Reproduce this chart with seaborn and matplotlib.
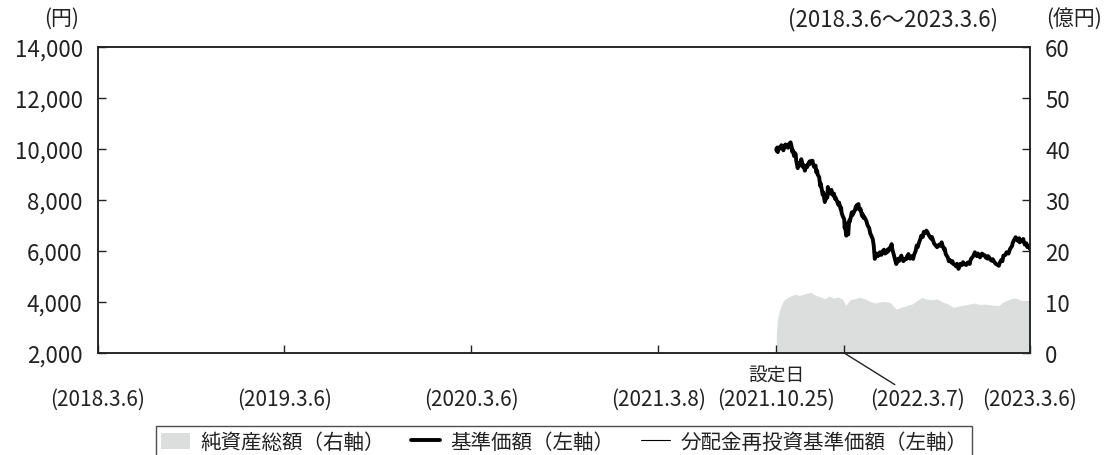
import pandas as pd
import matplotlib
matplotlib.use("Agg")
import matplotlib.pyplot as plt
from matplotlib.patches import Patch
from matplotlib.lines import Line2D
import seaborn as sns

# 基準価額（円）
nav_dates = [
    "2021-10-25", "2021-10-26", "2021-10-27", "2021-10-28", "2021-10-29",
    "2021-11-01", "2021-11-02", "2021-11-04", "2021-11-05", "2021-11-08", "2021-11-10",
    "2021-11-12", "2021-11-15", "2021-11-17", "2021-11-19", "2021-11-22", "2021-11-24",
    "2021-11-25", "2021-11-26", "2021-11-29", "2021-11-30",
    "2021-12-02", "2021-12-03", "2021-12-06", "2021-12-07", "2021-12-09", "2021-12-10",
    "2021-12-13", "2021-12-14", "2021-12-16", "2021-12-17", "2021-12-20", "2021-12-21",
    "2021-12-23", "2021-12-24", "2021-12-28", "2021-12-29", "2021-12-30",
    "2022-01-04", "2022-01-05", "2022-01-07", "2022-01-10", "2022-01-11", "2022-01-13",
    "2022-01-14", "2022-01-17", "2022-01-19", "2022-01-20", "2022-01-24", "2022-01-25",
    "2022-01-27", "2022-01-28", "2022-01-31",
    "2022-02-01", "2022-02-02", "2022-02-03", "2022-02-04", "2022-02-07", "2022-02-08",
    "2022-02-10", "2022-02-11", "2022-02-14", "2022-02-15", "2022-02-17", "2022-02-18",
    "2022-02-22", "2022-02-24", "2022-02-25", "2022-02-28",
    "2022-03-01", "2022-03-02", "2022-03-04", "2022-03-07", "2022-03-08", "2022-03-09",
    "2022-03-10", "2022-03-11", "2022-03-14", "2022-03-15", "2022-03-16", "2022-03-17",
    "2022-03-18", "2022-03-22", "2022-03-23", "2022-03-25", "2022-03-28", "2022-03-30",
    "2022-03-31",
    "2022-04-01", "2022-04-04", "2022-04-05", "2022-04-07", "2022-04-08", "2022-04-11",
    "2022-04-12", "2022-04-14", "2022-04-15", "2022-04-19", "2022-04-20", "2022-04-22",
    "2022-04-25", "2022-04-27",
    "2022-05-02", "2022-05-04", "2022-05-06", "2022-05-09", "2022-05-10", "2022-05-12",
    "2022-05-16", "2022-05-17", "2022-05-19", "2022-05-20", "2022-05-24", "2022-05-26",
    "2022-05-30", "2022-05-31",
    "2022-06-02", "2022-06-03", "2022-06-06", "2022-06-08", "2022-06-09", "2022-06-13",
    "2022-06-15", "2022-06-17", "2022-06-20", "2022-06-21", "2022-06-23", "2022-06-27",
    "2022-06-28",
    "2022-07-01", "2022-07-05", "2022-07-07", "2022-07-08", "2022-07-11", "2022-07-13",
    "2022-07-14", "2022-07-18", "2022-07-20", "2022-07-22", "2022-07-25", "2022-07-27",
    "2022-07-29",
    "2022-08-01", "2022-08-03", "2022-08-05", "2022-08-08", "2022-08-10", "2022-08-12",
    "2022-08-15", "2022-08-17", "2022-08-19", "2022-08-22", "2022-08-25", "2022-08-26",
    "2022-08-30",
    "2022-09-01", "2022-09-05", "2022-09-07", "2022-09-09", "2022-09-12", "2022-09-14",
    "2022-09-16", "2022-09-19", "2022-09-20", "2022-09-22", "2022-09-26", "2022-09-28",
    "2022-09-30",
    "2022-10-03", "2022-10-05", "2022-10-07", "2022-10-11", "2022-10-12", "2022-10-14",
    "2022-10-17", "2022-10-19", "2022-10-21", "2022-10-24", "2022-10-26", "2022-10-28",
    "2022-11-01", "2022-11-04", "2022-11-08", "2022-11-09", "2022-11-11", "2022-11-15",
    "2022-11-18", "2022-11-21", "2022-11-22", "2022-11-24", "2022-11-28", "2022-11-30",
    "2022-12-02", "2022-12-05", "2022-12-08", "2022-12-09", "2022-12-13", "2022-12-14",
    "2022-12-16", "2022-12-19", "2022-12-21", "2022-12-23", "2022-12-27", "2022-12-29",
    "2023-01-04", "2023-01-06", "2023-01-09", "2023-01-11", "2023-01-13", "2023-01-17",
    "2023-01-19", "2023-01-23", "2023-01-26", "2023-01-30", "2023-01-31",
    "2023-02-02", "2023-02-06", "2023-02-08", "2023-02-10", "2023-02-13", "2023-02-14",
    "2023-02-16", "2023-02-21", "2023-02-22", "2023-02-24", "2023-02-27",
    "2023-03-01", "2023-03-03", "2023-03-06",
]
nav_values = [
    10000, 9920, 10060, 9880, 9990,
    10080, 10020, 10150, 10060, 9950, 10120,
    10180, 10080, 10050, 10200, 10260, 10100,
    9900, 9980, 9720, 9850,
    9800, 9550, 9250, 9420, 9450, 9350,
    9600, 9520, 9300, 9380, 9150, 9250,
    9350, 9280, 9480, 9400, 9520,
    9540, 9420, 9300, 9350, 9100, 9150,
    9000, 8900, 8560, 8650, 8200, 8300,
    8050, 7920, 8100,
    8200, 8100, 8510, 8300, 8350, 8250,
    8400, 8300, 8170, 8250, 8050, 8100,
    7900, 7800, 7900, 7650,
    7700, 7500, 7380, 7250, 6900, 7100,
    6800, 6600, 6750, 6650, 7000, 7200,
    7150, 7520, 7400, 7480, 7600, 7750,
    7650,
    7800, 7840, 7700, 7600, 7650, 7380,
    7450, 7300, 7350, 7200, 7130, 7000,
    6900, 6700,
    6470, 6200, 5690, 5850, 5900, 5800,
    5950, 5850, 5850, 5950, 6050, 5900,
    5950, 6050,
    6000, 6100, 6150, 6270, 6100, 5800,
    5650, 5490, 5600, 5700, 5620, 5820,
    5750,
    5600, 5700, 5690, 5780, 5880, 5750,
    5700, 5800, 5690, 5850, 6000, 6210,
    6150,
    6350, 6450, 6600, 6550, 6750, 6700,
    6800, 6750, 6650, 6550, 6470, 6550,
    6300,
    6250, 6150, 6200, 6250, 6200, 6340,
    6200, 6050, 6100, 5880, 5750, 5600,
    5650,
    5550, 5600, 5490, 5450, 5400, 5500,
    5300, 5400, 5500, 5450, 5560, 5500,
    5450, 5550, 5490, 5600, 5700, 5800,
    5950, 5850, 5800, 5900, 5750, 5800,
    5900, 5850, 5820, 5750, 5700, 5800,
    5750, 5650, 5620, 5680, 5550, 5500,
    5420, 5550, 5650, 5600, 5820, 5850,
    5950, 5900, 6080, 6200, 6300,
    6400, 6540, 6450, 6400, 6500, 6340,
    6400, 6470, 6350, 6250, 6300,
    6150, 6200, 6080,
]

# 純資産総額（億円）
aum_dates = [
    "2021-10-25", "2021-10-27", "2021-11-01", "2021-11-08", "2021-11-15", "2021-11-22",
    "2021-12-01", "2021-12-10", "2021-12-20", "2022-01-01", "2022-01-10", "2022-01-20",
    "2022-01-28", "2022-02-05", "2022-02-14", "2022-02-24", "2022-03-04", "2022-03-10",
    "2022-03-18", "2022-03-25", "2022-04-05", "2022-04-15", "2022-04-25", "2022-05-06",
    "2022-05-15", "2022-05-25", "2022-06-05", "2022-06-17", "2022-06-28", "2022-07-07",
    "2022-07-18", "2022-07-28", "2022-08-06", "2022-08-15", "2022-08-25", "2022-09-05",
    "2022-09-15", "2022-09-25", "2022-10-07", "2022-10-17", "2022-10-28", "2022-11-08",
    "2022-11-18", "2022-11-28", "2022-12-08", "2022-12-21", "2023-01-04", "2023-01-13",
    "2023-01-26", "2023-02-06", "2023-02-14", "2023-02-21", "2023-03-06",
]
aum_values = [
    3.5, 6.5, 8.6, 10.3, 10.8, 11.2,
    11.5, 11.3, 11.6, 11.9, 11.3, 11.0,
    10.6, 11.2, 10.8, 11.0, 10.5, 9.3,
    10.4, 10.6, 10.9, 10.7, 10.2, 9.8,
    10.0, 10.1, 9.9, 8.6, 9.0, 9.3,
    9.6, 10.3, 10.9, 10.6, 10.4, 10.6,
    10.0, 9.7, 8.95, 9.2, 9.4, 9.6,
    9.8, 9.5, 9.6, 9.4, 9.3, 10.0,
    10.6, 10.8, 10.4, 10.3, 10.0,
]

tick_dates = ["2018-03-06", "2019-03-06", "2020-03-06", "2021-03-08",
              "2021-10-25", "2022-03-07", "2023-03-06"]
tick_labels = ["(2018.3.6)", "(2019.3.6)", "(2020.3.6)", "(2021.3.8)",
               "(2021.10.25)", "", "(2023.3.6)"]

nav = pd.DataFrame({"date": pd.to_datetime(nav_dates), "value": nav_values})
aum = pd.DataFrame({"date": pd.to_datetime(aum_dates), "value": aum_values})

sns.set_style("ticks")
plt.rcParams["font.family"] = ["Noto Sans CJK JP", "DejaVu Sans"]

ink = "#222222"
grey = "#dcdddd"

fig = plt.figure(figsize=(11.07, 4.56), dpi=100)
ax = fig.add_axes([0.0885, 0.2237, 0.8419, 0.671])
ax2 = ax.twinx()

ax2.fill_between(aum["date"], 0, aum["value"], color=grey, linewidth=0)
ax2.set_ylim(0, 60)
ax2.set_yticks(range(0, 61, 10))

sns.lineplot(data=nav, x="date", y="value", ax=ax, color="black", linewidth=2.8)
sns.lineplot(data=nav, x="date", y="value", ax=ax, color="black", linewidth=0.8)

ax.set_zorder(ax2.get_zorder() + 1)
ax.patch.set_visible(False)

ax.set_xlim(pd.Timestamp("2018-03-06"), pd.Timestamp("2023-03-06"))
ax.set_ylim(2000, 14000)
ax.set_yticks(range(2000, 14001, 2000))
ax.yaxis.set_major_formatter(matplotlib.ticker.StrMethodFormatter("{x:,.0f}"))
ax.set_xticks(pd.to_datetime(tick_dates))
ax.set_xticklabels(tick_labels)
ax.set_xlabel("")
ax.set_ylabel("")

ax.tick_params(axis="y", direction="in", length=6, width=1, labelsize=16, pad=11, colors=ink)
ax.tick_params(axis="x", direction="in", length=6, width=1, labelsize=15, pad=25, colors=ink)
ax2.tick_params(axis="y", direction="in", length=6, width=1, labelsize=16, pad=11, colors=ink)
for a in (ax, ax2):
    for s in a.spines.values():
        s.set_linewidth(1.1)
        s.set_color(ink)
        s.set_visible(True)

ax.text(pd.Timestamp("2021-10-25"), -0.068, "設定日", transform=ax.get_xaxis_transform(),
        ha="center", va="center", fontsize=13.5, color=ink)
ax.annotate("(2022.3.7)", xy=(pd.Timestamp("2022-03-07"), 2000), xycoords="data",
            xytext=(pd.Timestamp("2022-07-29"), -0.150),
            textcoords=ax.get_xaxis_transform(), ha="center", va="center",
            fontsize=15, color=ink,
            arrowprops=dict(arrowstyle="-", color=ink, lw=1, shrinkA=0, shrinkB=0))

fig.text(0.056, 0.958, "(円)", ha="center", va="center", fontsize=15, color=ink)
fig.text(0.970, 0.958, "(億円)", ha="center", va="center", fontsize=15, color=ink)
fig.text(0.807, 0.958, "(2018.3.6～2023.3.6)", ha="center", va="center", fontsize=16, color=ink)

handles = [
    Patch(facecolor=grey, edgecolor="none"),
    Line2D([], [], color="black", linewidth=2.8),
    Line2D([], [], color="black", linewidth=0.8),
]
labels = ["純資産総額（右軸）", "基準価額（左軸）", "分配金再投資基準価額（左軸）"]
leg = fig.legend(handles, labels, loc="upper center", bbox_to_anchor=(0.5095, 0.064),
                 ncol=3, frameon=True, fancybox=False, edgecolor=ink,
                 fontsize=14.8, handlelength=1.4, handleheight=0.85, columnspacing=1.3,
                 handletextpad=0.5, borderpad=0.25, borderaxespad=0)
leg.get_frame().set_linewidth(1)
for t in leg.get_texts():
    t.set_color(ink)

fig.savefig("out.png", dpi=100)
